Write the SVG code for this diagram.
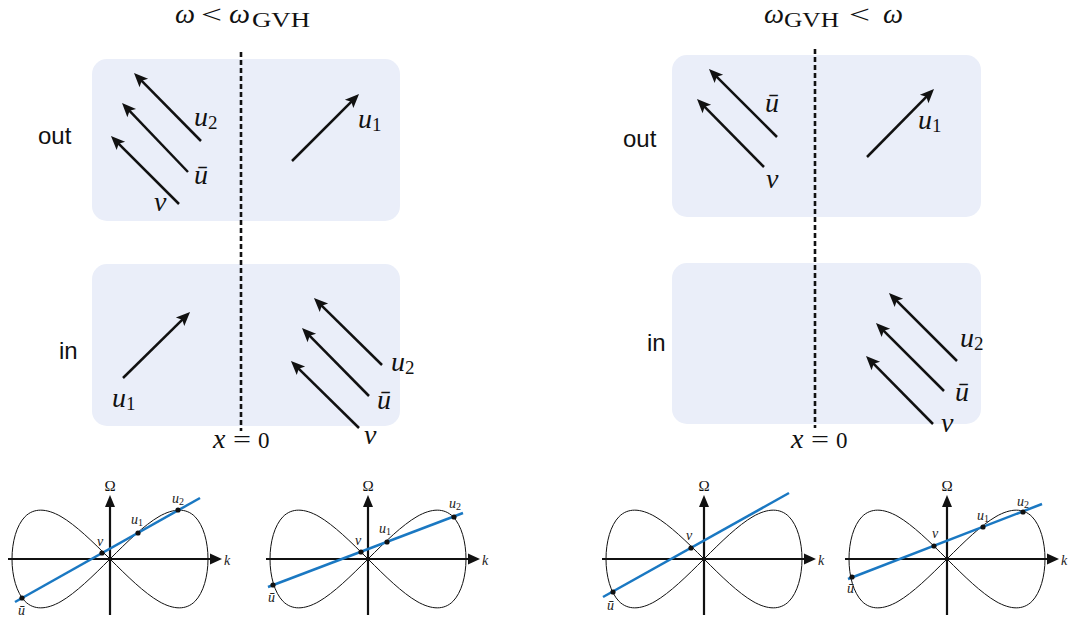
<svg xmlns="http://www.w3.org/2000/svg" xmlns:xlink="http://www.w3.org/1999/xlink" width="1073" height="620" viewBox="0 0 1073 620">
<style>
.box{fill:#eaeef9;}
.arr{stroke:#111;stroke-width:2.5;fill:none;marker-end:url(#ah);}
.dash{stroke:#111;stroke-width:2.6;stroke-dasharray:5 3;fill:none;}
.m{font-family:"Liberation Serif","Times New Roman",serif;font-style:italic;font-size:28px;fill:#111;}
.sub{font-family:"Liberation Serif","Times New Roman",serif;font-style:normal;font-size:19px;}
.rm{font-family:"Liberation Serif","Times New Roman",serif;font-style:normal;fill:#111;}
.sans{font-family:"Liberation Sans",Arial,sans-serif;font-size:24px;fill:#111;}
.blue{stroke:#1a78c2;stroke-width:2.5;fill:none;}
.pt{fill:#111;}
.gl{font-family:"Liberation Serif","Times New Roman",serif;font-style:italic;font-size:14px;fill:#222;}
.gs{font-style:normal;font-size:10px;}
</style>
<defs>
<marker id="ah" viewBox="-15 -7 16 14" refX="-4" refY="0" markerWidth="16" markerHeight="14" markerUnits="userSpaceOnUse" orient="auto">
<path d="M0,0 L-14,-6 L-11,0 L-14,6 Z" fill="#111"/>
</marker>
<g id="plotbase">
<path d="M98,0 C98,-17.1 93.42,-33.89 84.87,-42.44 C76.32,-50.99 63.81,-50.99 49,-42.44 C34.19,-33.89 17.1,-17.1 0,0 C-17.1,17.1 -34.19,33.89 -49,42.44 C-63.81,50.99 -76.32,50.99 -84.87,42.44 C-93.42,33.89 -98,17.1 -98,0 C-98,-17.1 -93.42,-33.89 -84.87,-42.44 C-76.32,-50.99 -63.81,-50.99 -49,-42.44 C-34.19,-33.89 -17.1,-17.1 0,0 C17.1,17.1 34.19,33.89 49,42.44 C63.81,50.99 76.32,50.99 84.87,42.44 C93.42,33.89 98,17.1 98,0 Z" fill="none" stroke="#111" stroke-width="1"/>
<line x1="-102" y1="0" x2="101" y2="0" stroke="#111" stroke-width="2.2"/>
<polygon points="112,0 100,-5.5 100,5.5" fill="#111"/>
<line x1="0" y1="56" x2="0" y2="-53" stroke="#111" stroke-width="2.2"/>
<polygon points="0,-64 -5,-52 5,-52" fill="#111"/>
<text class="rm" x="0" y="-68" font-size="15" text-anchor="middle">Ω</text>
<text class="gl" x="114" y="6" font-size="17">k</text>
</g>
</defs>

<!-- titles -->
<g id="title-left">
<text class="m" x="175" y="23" font-size="26" textLength="20" lengthAdjust="spacingAndGlyphs">ω</text>
<text class="rm" x="201" y="23" font-size="26" textLength="21" lengthAdjust="spacingAndGlyphs">&lt;</text>
<text class="m" x="229" y="23" font-size="26" textLength="21" lengthAdjust="spacingAndGlyphs">ω</text>
<text class="rm" x="252" y="27" font-size="20" textLength="58" lengthAdjust="spacingAndGlyphs">GVH</text>
</g>
<g id="title-right">
<text class="m" x="764" y="23" font-size="26" textLength="20" lengthAdjust="spacingAndGlyphs">ω</text>
<text class="rm" x="784" y="27" font-size="20" textLength="55" lengthAdjust="spacingAndGlyphs">GVH</text>
<text class="rm" x="849" y="23" font-size="26" textLength="21" lengthAdjust="spacingAndGlyphs">&lt;</text>
<text class="m" x="883" y="23" font-size="26" textLength="20" lengthAdjust="spacingAndGlyphs">ω</text>
</g>

<!-- boxes -->
<g id="box-tl"><rect class="box" x="92" y="59" width="308" height="162" rx="15"/></g>
<g id="box-bl"><rect class="box" x="92" y="264" width="308" height="162" rx="15"/></g>
<g id="box-tr"><rect class="box" x="672" y="55" width="309" height="162" rx="15"/></g>
<g id="box-br"><rect class="box" x="672" y="263" width="309" height="161" rx="15"/></g>

<!-- row labels -->
<g id="labels">
<text class="sans" x="38" y="144">out</text>
<text class="sans" x="59" y="359">in</text>
<text class="sans" x="623" y="147">out</text>
<text class="sans" x="647" y="351">in</text>
<g id="x0-left">
<text class="m" x="213" y="448" font-size="25">x</text>
<text class="rm" x="233" y="448" font-size="26" textLength="18" lengthAdjust="spacingAndGlyphs">=</text>
<text class="rm" x="258" y="448" font-size="23">0</text>
</g>
<g id="x0-right">
<text class="m" x="791" y="448" font-size="25">x</text>
<text class="rm" x="811" y="448" font-size="26" textLength="18" lengthAdjust="spacingAndGlyphs">=</text>
<text class="rm" x="836" y="448" font-size="23">0</text>
</g>
</g>

<!-- connectors -->
<g id="connectors">
<line class="dash" x1="241" y1="52" x2="241" y2="431"/>
<line class="dash" x1="815" y1="49" x2="815" y2="428"/>
<line class="arr" x1="201" y1="141" x2="136.8" y2="75.8"/>
<line class="arr" x1="188" y1="172" x2="124.8" y2="105.8"/>
<line class="arr" x1="179" y1="204" x2="113.8" y2="138.8"/>
<line class="arr" x1="292" y1="161" x2="356.2" y2="96.8"/>
<line class="arr" x1="123" y1="378" x2="187.2" y2="314.8"/>
<line class="arr" x1="382" y1="365" x2="316.8" y2="300.8"/>
<line class="arr" x1="369" y1="396" x2="304.8" y2="330.8"/>
<line class="arr" x1="359" y1="428" x2="293.8" y2="363.8"/>
<line class="arr" x1="777" y1="137" x2="711.8" y2="71.8"/>
<line class="arr" x1="764" y1="167" x2="699.8" y2="101.8"/>
<line class="arr" x1="867" y1="157" x2="931.2" y2="91.8"/>
<line class="arr" x1="957" y1="361" x2="891.8" y2="295.8"/>
<line class="arr" x1="944" y1="391" x2="878.8" y2="325.8"/>
<line class="arr" x1="933" y1="424" x2="868.8" y2="358.8"/>
</g>

<!-- arrow labels -->
<g id="arrow-labels">
<text class="m" x="194" y="126">u<tspan class="sub" dy="3">2</tspan></text>
<text class="m" x="194" y="184">ū</text>
<text class="m" x="154" y="211">v</text>
<text class="m" x="358" y="128">u<tspan class="sub" dy="3">1</tspan></text>
<text class="m" x="112" y="407">u<tspan class="sub" dy="3">1</tspan></text>
<text class="m" x="391" y="371">u<tspan class="sub" dy="3">2</tspan></text>
<text class="m" x="377" y="409">ū</text>
<text class="m" x="364" y="444">v</text>
<text class="m" x="765" y="112">ū</text>
<text class="m" x="766" y="188">v</text>
<text class="m" x="918" y="129">u<tspan class="sub" dy="3">1</tspan></text>
<text class="m" x="960" y="347">u<tspan class="sub" dy="3">2</tspan></text>
<text class="m" x="955" y="401">ū</text>
<text class="m" x="941" y="432">v</text>
</g>

<!-- dispersion plots -->
<g id="plot1" transform="translate(110,559)">
<use xlink:href="#plotbase" href="#plotbase"/>
<line class="blue" x1="-95" y1="43" x2="90" y2="-61"/>
<circle class="pt" cx="-88" cy="39" r="2.6"/>
<circle class="pt" cx="-8" cy="-6" r="2.6"/>
<circle class="pt" cx="28" cy="-26" r="2.6"/>
<circle class="pt" cx="68" cy="-49" r="2.6"/>
<text class="gl" x="-92" y="56">ū</text>
<text class="gl" x="-13" y="-13">v</text>
<text class="gl" x="21" y="-35">u<tspan class="gs" dy="2">1</tspan></text>
<text class="gl" x="62" y="-56">u<tspan class="gs" dy="2">2</tspan></text>
</g>
<g id="plot2" transform="translate(368,559)">
<use xlink:href="#plotbase" href="#plotbase"/>
<line class="blue" x1="-100" y1="28" x2="95" y2="-46"/>
<circle class="pt" cx="-95" cy="26" r="2.6"/>
<circle class="pt" cx="-7" cy="-7" r="2.6"/>
<circle class="pt" cx="19" cy="-17" r="2.6"/>
<circle class="pt" cx="86" cy="-42" r="2.6"/>
<text class="gl" x="-100" y="43">ū</text>
<text class="gl" x="-13" y="-14">v</text>
<text class="gl" x="11" y="-26">u<tspan class="gs" dy="2">1</tspan></text>
<text class="gl" x="81" y="-51">u<tspan class="gs" dy="2">2</tspan></text>
</g>
<g id="plot3" transform="translate(704,559)">
<use xlink:href="#plotbase" href="#plotbase"/>
<line class="blue" x1="-101" y1="38" x2="85" y2="-66"/>
<circle class="pt" cx="-91" cy="33" r="2.6"/>
<circle class="pt" cx="-13" cy="-11" r="2.6"/>
<text class="gl" x="-97" y="51">ū</text>
<text class="gl" x="-18" y="-19">v</text>
</g>
<g id="plot4" transform="translate(947,559)">
<use xlink:href="#plotbase" href="#plotbase"/>
<line class="blue" x1="-99" y1="20" x2="95" y2="-55"/>
<circle class="pt" cx="-95" cy="18" r="2.6"/>
<circle class="pt" cx="-13" cy="-13" r="2.6"/>
<circle class="pt" cx="36" cy="-32" r="2.6"/>
<circle class="pt" cx="76" cy="-47" r="2.6"/>
<text class="gl" x="-100" y="34">ū</text>
<text class="gl" x="-15" y="-21">v</text>
<text class="gl" x="30" y="-39">u<tspan class="gs" dy="2">1</tspan></text>
<text class="gl" x="70" y="-53">u<tspan class="gs" dy="2">2</tspan></text>
</g>
</svg>
